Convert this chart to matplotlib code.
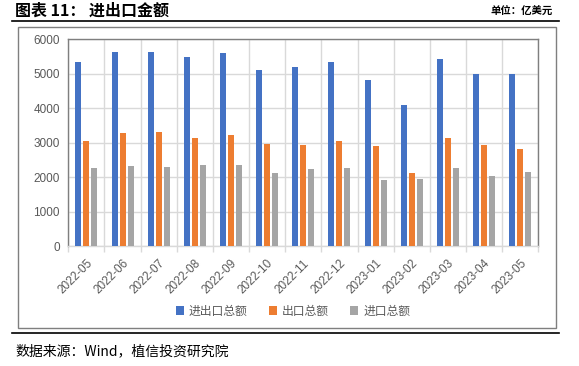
import matplotlib
matplotlib.use("Agg")
import matplotlib.pyplot as plt
import numpy as np
from matplotlib.patches import Rectangle
from matplotlib.lines import Line2D

months = ["2022-05", "2022-06", "2022-07", "2022-08", "2022-09", "2022-10", "2022-11",
          "2022-12", "2023-01", "2023-02", "2023-03", "2023-04", "2023-05"]
total = [5343, 5634, 5636, 5489, 5605, 5111, 5198, 5344, 4821, 4095, 5431, 4995, 4995]
exports = [3049, 3281, 3311, 3137, 3224, 2962, 2933, 3049, 2904, 2120, 3137, 2933, 2817]
imports = [2265, 2323, 2294, 2352, 2352, 2120, 2236, 2265, 1917, 1946, 2265, 2033, 2149]
series_names = ["进出口总额", "出口总额", "进口总额"]
colors = ["#4472C4", "#ED7D31", "#A5A5A5"]

W, H = 579, 366
fig = plt.figure(figsize=(W / 100, H / 100), dpi=100)
cjk = ["Noto Sans CJK SC", "DejaVu Sans"]

def px(x0, y0, x1, y1):
    return [x0 / W, 1 - y1 / H, (x1 - x0) / W, (y1 - y0) / H]

# frame lines and box
fig.add_artist(Line2D([12 / W, 559 / W], [1 - 21 / H, 1 - 21 / H], color="black", lw=1.2))
fig.add_artist(Line2D([12 / W, 559 / W], [1 - 333 / H, 1 - 333 / H], color="black", lw=1.2))
fig.add_artist(Rectangle((17.5 / W, 1 - 328.3 / H), (555.5 - 17.5) / W, (328.3 - 26.5) / H,
                         transform=fig.transFigure, fill=False, ec="#7F7F7F", lw=1.0))

fig.text(15 / W, 1 - 11 / H, "图表 11： 进出口金额", family=cjk, fontsize=11.5,
         fontweight="bold", va="center", ha="left")
fig.text(553 / W, 1 - 11 / H, "单位：亿美元", family=cjk, fontsize=7.5,
         fontweight="bold", va="center", ha="right")
fig.text(15 / W, 1 - 351 / H, "数据来源：Wind，植信投资研究院", family=cjk, fontsize=10,
         va="center", ha="left")

ax = fig.add_axes(px(68.3, 39.3, 538.3, 246.3))
x = np.arange(len(months))
w = 0.166
off = 0.221
for i, (vals, name, c) in enumerate(zip([total, exports, imports], series_names, colors)):
    ax.bar(x + (i - 1) * off, vals, width=w, color=c, label=name, zorder=3)

ax.set_xlim(-0.5, len(months) - 0.5)
ax.set_ylim(0, 6000)
ax.set_yticks(np.arange(0, 6001, 1000))
ax.set_xticks(x)
ax.set_xticklabels(months, rotation=45, ha="right", rotation_mode="anchor",
                   family="Liberation Sans", fontsize=8.5, color="#595959")
ax.set_xticks(np.arange(-0.5, len(months), 1), minor=True)
ax.tick_params(axis="x", which="major", length=0, pad=8)
ax.tick_params(axis="x", which="minor", length=4, color="#D9D9D9", width=1)
ax.tick_params(axis="y", length=0, pad=6, labelcolor="#595959")
for lab in ax.get_yticklabels():
    lab.set_family("Liberation Sans")
    lab.set_fontsize(8.5)
ax.grid(axis="y", color="#D9D9D9", lw=1, zorder=0)
ax.grid(axis="x", which="minor", color="#D9D9D9", lw=1, zorder=0)
for s in ["left", "top", "right"]:
    ax.spines[s].set_color("#7F7F7F")
    ax.spines[s].set_linewidth(1.0)
ax.spines["bottom"].set_color("#D9D9D9")
ax.spines["bottom"].set_linewidth(1.0)

leg = fig.legend(loc="center", bbox_to_anchor=(293 / W, 1 - 311 / H), ncol=3, frameon=False,
                 prop={"family": cjk, "size": 8.5}, handlelength=0.7, handleheight=0.7,
                 columnspacing=1.8, handletextpad=0.4)
for t in leg.get_texts():
    t.set_color("#595959")

fig.savefig("out.png", dpi=100)
